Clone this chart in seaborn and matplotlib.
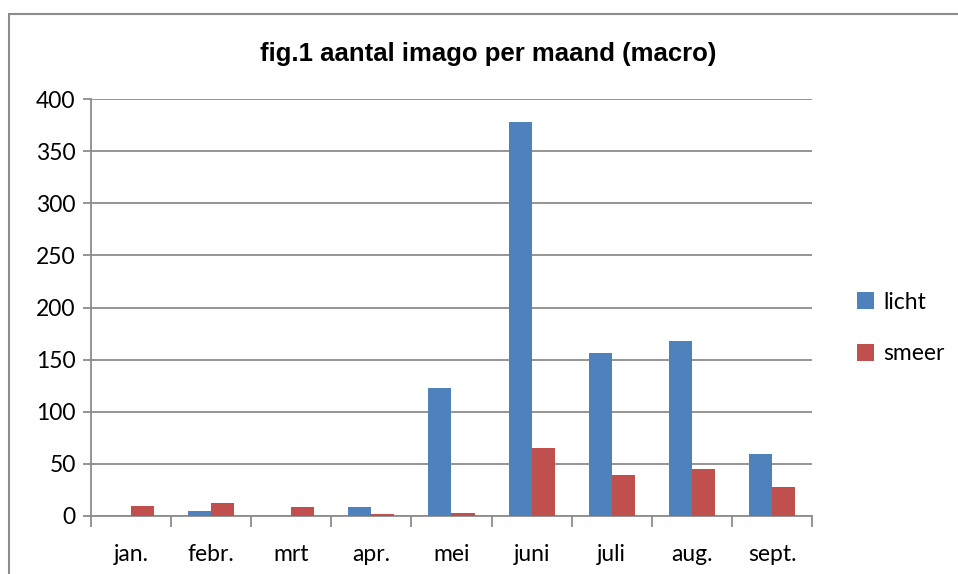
import pandas as pd
import numpy as np
import matplotlib
matplotlib.use("Agg")
import matplotlib.pyplot as plt
import seaborn as sns
from matplotlib.patches import Rectangle
from matplotlib.ticker import FixedLocator

months = ["jan.", "febr.", "mrt", "apr.", "mei", "juni", "juli", "aug.", "sept."]
licht = [0, 5, 0, 9, 123, 378, 156, 168, 59]
smeer = [10, 12, 9, 2, 3, 65, 39, 45, 28]
series = ["licht", "smeer"]
colors = ["#4F81BD", "#C0504D"]

df = pd.DataFrame({"maand": months * 2,
                   "reeks": ["licht"] * len(months) + ["smeer"] * len(months),
                   "aantal": licht + smeer})

sns.set_style("white")
plt.rcParams['font.family'] = ['Lato', 'DejaVu Sans']
plt.rcParams['text.color'] = 'black'
plt.rcParams['xtick.color'] = 'black'
plt.rcParams['ytick.color'] = 'black'

fig = plt.figure(figsize=(9.58, 5.74), dpi=100)
ax = fig.add_axes([91 / 958, 58 / 574, 721 / 958, 417 / 574])

sns.barplot(data=df, x="maand", y="aantal", hue="reeks", order=months,
            hue_order=series, palette=colors, width=0.575, saturation=1,
            linewidth=0, ax=ax, zorder=3)

ax.set_ylim(0, 400)
ax.set_xlim(-0.5, len(months) - 0.5)
ax.set_yticks(np.arange(0, 401, 50))
ax.yaxis.grid(True, color="#8c8c8c", linewidth=1.3, zorder=0)
ax.set_axisbelow(True)
ax.set_xlabel("")
ax.set_ylabel("")

for s in ["top", "right"]:
    ax.spines[s].set_visible(False)
for s in ["left", "bottom"]:
    ax.spines[s].set_color("#8c8c8c")
    ax.spines[s].set_linewidth(1.3)

ax.tick_params(axis="y", direction="out", length=6, width=1.3, color="#8c8c8c",
               labelsize=16.5, labelcolor="black", pad=5, left=True)
ax.tick_params(axis="x", which="major", length=0, labelsize=16.5,
               labelcolor="black", pad=20)
ax.xaxis.set_minor_locator(FixedLocator(np.arange(-0.5, len(months), 1)))
ax.tick_params(axis="x", which="minor", direction="out", length=8, width=1.3,
               color="#8c8c8c", bottom=True)

fig.text(488 / 958, 1 - 54 / 574, "fig.1 aantal imago per maand (macro)",
         ha="center", va="center", fontsize=18.5, fontweight="bold",
         color="black", family=["Liberation Sans", "DejaVu Sans"])

leg = ax.legend(loc="center left",
                bbox_to_anchor=((836 - 91) / 721, (574 - 328 - 58) / 417),
                frameon=False, fontsize=16.5, handlelength=0.75, handleheight=0.75,
                handletextpad=0.4, labelspacing=1.35)

fig.patches.append(Rectangle((9 / 958, -0.1), 1.2, 1 - 14 / 574 + 0.1,
                             transform=fig.transFigure, fill=False,
                             edgecolor="#8c8c8c", linewidth=1.5))

fig.savefig("out.png", dpi=100)
